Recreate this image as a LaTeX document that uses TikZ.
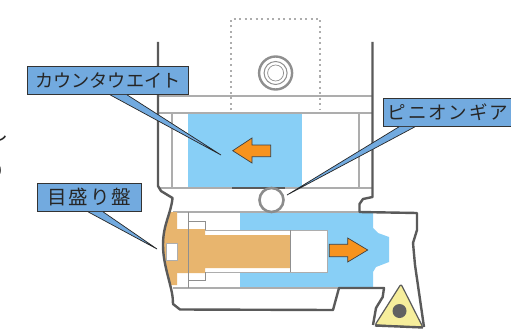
\documentclass[tikz,border=0pt]{standalone}
\usepackage{fontspec}
\newfontfamily\jpfont{Noto Sans CJK JP}
\newfontfamily\jpwide[LetterSpace=10]{Noto Sans CJK JP}
\definecolor{partblue}{HTML}{88CFF6}
\definecolor{calloutblue}{HTML}{72AADF}
\definecolor{arroworange}{HTML}{F7931E}
\definecolor{shafttan}{HTML}{E8B56E}
\definecolor{insertyellow}{HTML}{F6EE9C}
\definecolor{wallgrey}{HTML}{5A5A5A}
\definecolor{lightgrey}{HTML}{ADADAD}
\definecolor{midgrey}{HTML}{8F8F8F}
\tikzset{
  x=1pt,y=-1pt,
  wallline/.style={draw=wallgrey,line width=2.4pt,line join=round},
  thinline/.style={draw=lightgrey,line width=1.6pt},
  midthin/.style={draw=midgrey,line width=1pt},
  dotline/.style={draw=black!32,line width=1.4pt,dash pattern=on 2pt off 3.5pt},
  moveline/.style={draw=black!75,line width=.7pt,fill=arroworange,line join=miter},
  box/.style={draw=black!80,line width=.8pt,fill=calloutblue,inner sep=0pt,text=black!85,anchor=north west,align=center},
  tail/.style={draw=black!85,line width=.7pt,fill=calloutblue,line join=miter},
}
\begin{document}
\begin{tikzpicture}
\useasboundingbox (0,0) rectangle (511,329);
\fill[white] (0,0) rectangle (511,329);
% clipped page text at the left edge
\node (frag1) [anchor=east,inner sep=0pt,text=black!85] at (8.5,133) {\jpfont\fontsize{20}{20}\selectfont し};
\node (frag2) [anchor=east,inner sep=0pt,text=black!85] at (5.5,171) {\jpfont\fontsize{20}{20}\selectfont り};
% dotted outline above the body
\draw[dotline] (231,110) -- (231,19) -- (320,19) -- (320,110);
% blue parts
\fill[partblue] (188,113) rectangle (302,188);
\fill[partblue] (240,212) -- (373,212) -- (373,228) -- (378,233) -- (389,237) -- (389,262) -- (376,267) -- (373,272) -- (373,288) -- (240,288) -- cycle;
% thin structure lines
\draw[thinline] (158,96) -- (372,96);
\draw[thinline] (158,113) -- (372,113);
\draw[thinline] (172,113) -- (172,188);
\draw[thinline] (359,113) -- (359,188);
\draw[thinline] (158,188) -- (372,188);
\draw[thinline] (173,212) -- (359,212);
\draw[thinline] (173,288) -- (340,288);
% washer
\draw[midthin,line width=2.4pt] (275.6,73) circle (16.5);
\draw[midthin] (275.6,73) circle (11.5);
\draw[midthin,line width=.7pt] (275.6,73) circle (8);
% shaft
\fill[white] (205,230) rectangle (327,272);
\draw[thinline,line width=1pt] (205,230) -- (327,230) -- (327,272) -- (205,272);
\fill[shafttan] (177,229) -- (205,229) -- (205,235) -- (290,235) -- (290,268) -- (205,268) -- (205,273) -- (177,273) -- cycle;
\draw[midthin,line width=.7pt] (290,230) -- (290,272);
% dial
\fill[shafttan] (170,212) .. controls (166,222) and (163,232) .. (163,245) .. controls (163,260) and (166,275) .. (170,285) -- (177,285) -- (177,212) -- cycle;
\fill[white] (166,243) rectangle (177,260);
\draw[draw=lightgrey,line width=.6pt] (166,243) rectangle (177,260);
% retaining screw outline
\draw[midthin,line width=.8pt] (188,212) -- (188,288);
\draw[midthin,line width=.8pt] (188,221) -- (205,221) -- (205,230);
\draw[midthin,line width=.8pt] (188,280) -- (205,280) -- (205,272);
% pinion
\draw[wallgrey,line width=1.6pt] (232,188) -- (285,188);
\draw[draw=black!45,fill=white,line width=2.6pt] (271.5,200) circle (12);
% body outline
\draw[wallline] (158,42) -- (158,186) -- (161,191) -- (172.5,198) .. controls (171,214) and (163,224) .. (163,245) .. controls (163,265) and (171,283) .. (172.7,298) -- (173,304) -- (180,309.5) -- (333,310) -- (339,288) -- (384,288) -- (382.7,297) -- (376,308) -- (373,325);
\draw[wallline] (372.5,42) -- (372.5,197) -- (363,199) -- (359.5,204) -- (359.5,212) -- (417,213) -- (417,230) -- (413,243) -- (415,265) -- (424,327);
% insert
\draw[draw=wallgrey,fill=insertyellow,line width=1.2pt,line join=round,rounded corners=2pt] (401,284) -- (375,325) -- (423,327.5) -- cycle;
\draw[wallline] (375,325.5) -- (423,327.5);
\fill[black!62] (399.5,311) circle (7);
% motion arrows
\draw[moveline] (232.7,150.7) -- (252,138) -- (252,145) -- (270.7,145) -- (270.7,156.7) -- (252,156.7) -- (252,163) -- cycle;
\draw[moveline] (367.7,250) -- (347.7,238) -- (347.7,244.3) -- (329.3,244.3) -- (329.3,256.7) -- (347.7,256.7) -- (347.7,262) -- cycle;
% callouts
\coordinate (tipcw) at (221,155);
\coordinate (tippg) at (287,195);
\coordinate (tipdial) at (157,249);
\node (cw) [box,minimum width=161pt,minimum height=28pt] at (27,66) {\jpfont\fontsize{18.2}{18}\selectfont カウンタウエイト};
\node (pg) [box,minimum width=140pt,minimum height=28pt,anchor=north west,align=left] at (383,98) {\hspace*{1pt}\jpwide\fontsize{18.5}{18}\selectfont ピニオンギア\hspace*{12pt}};
\node (dial) [box,minimum width=104pt,minimum height=28pt] at (37,183) {\jpwide\fontsize{19.5}{18}\selectfont 目盛り盤};
\draw[tail] ([xshift=83pt]cw.south west) -- (tipcw) -- ([xshift=100pt]cw.south west);
\draw[tail] ([xshift=16pt]pg.south west) -- (tippg) -- ([xshift=32pt]pg.south west);
\draw[tail] ([xshift=51pt]dial.south west) -- (tipdial) -- ([xshift=66pt]dial.south west);
\end{tikzpicture}
\end{document}
